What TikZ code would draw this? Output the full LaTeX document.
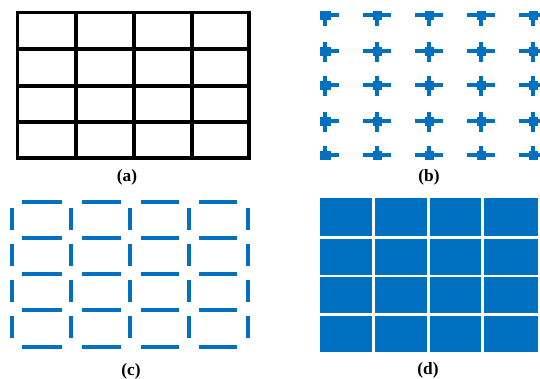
\documentclass[tikz,border=0pt]{standalone}
\usepackage{fontspec}
\setmainfont{Liberation Serif}
\definecolor{gridblue}{RGB}{0,112,192}

\begin{document}
\begin{tikzpicture}[x=0.75pt, y=-0.75pt,
        gridline/.style={line width=2.6pt, black, line cap=rect},
        hbar/.style={line width=2.5pt, gridblue},
        vbar/.style={line width=3.4pt, gridblue},
        label/.style={font=\fontsize{13}{15}\selectfont\bfseries}]
        \clip (0,0) rectangle (540,379);

        % (a) plain grid
        \foreach \x in {17.5,76,134,192,249}
            \draw[gridline] (\x,12.5) -- (\x,158);
        \foreach \y in {12.5,49,86,122,158}
            \draw[gridline] (17.5,\y) -- (249,\y);
        \node[label] (la) at (127,177) {(a)};

        % (b) crosses only
        \foreach \x [count=\i] in {325,377,429,481,533}
            \foreach \y [count=\j] in {15,51,85,121,155} {
                \pgfmathsetmacro\xl{\i==1 ? 0 : -14}
                \pgfmathsetmacro\yt{\j==1 ? 0 : -9.5}
                \pgfmathsetmacro\yb{\j==5 ? 0 : 10.5}
                \pgfmathsetmacro\sw{\i==1 ? 5.5 : 4.5}
                \draw[line width=2.3pt, gridblue] (\x+\xl,\y) -- (\x+14,\y);
                \draw[line width=3.6pt, gridblue] (\x,\y+\yt) -- (\x,\y+\yb);
                \fill[gridblue] (\x-\sw,\y-4.5) rectangle (\x+\sw,\y+4.5);
            }
        \node[label] (lb) at (429,177) {(b)};

        % (c) bars only
        \foreach \xa/\xb in {22/62,82/121,141/179,199/237}
            \foreach \y in {202,238,274,310,347}
                \draw[hbar] (\xa,\y) -- (\xb,\y);
        \foreach \x in {12,71,130,189,248}
            \foreach \ya/\yb in {208/230,244/266,280/302,316/338}
                \draw[vbar] (\x,\ya) -- (\x,\yb);
        \node[label] (lc) at (131,371) {(c)};

        % (d) filled cells
        \foreach \xa/\xb in {320/372,375/427,430/481,484/538}
            \foreach \ya/\yb in {198/236,238.5/274.5,277/313,316/352}
                \fill[gridblue] (\xa,\ya) rectangle (\xb,\yb);
        \node[label] (ld) at (428,370) {(d)};
    \end{tikzpicture}
\end{document}
